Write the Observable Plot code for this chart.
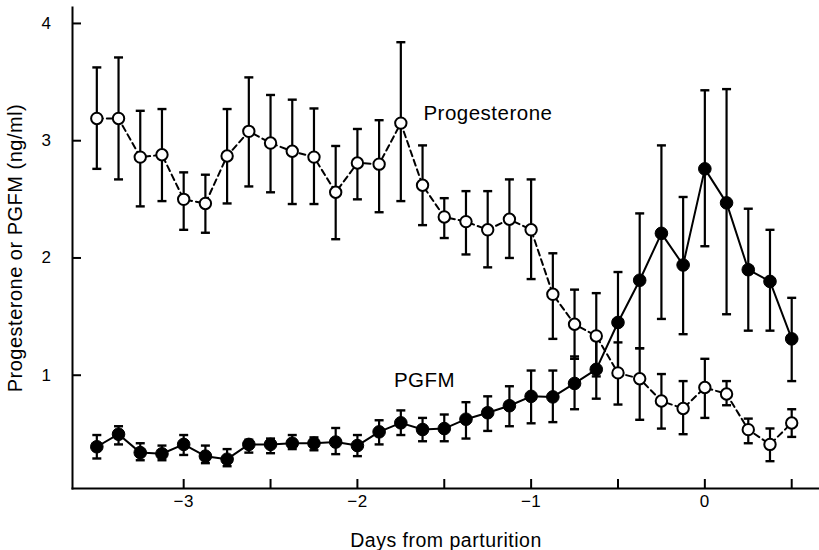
<!DOCTYPE html>
<html><head><meta charset="utf-8">
<script src="https://cdn.jsdelivr.net/npm/d3@7"></script>
<script src="https://cdn.jsdelivr.net/npm/@observablehq/plot@0.6"></script>
<style>
body{margin:0;background:#fff}
#chart svg{font-family:"Liberation Sans",Arial,sans-serif}
#chart svg text{letter-spacing:0.5px}
</style>
</head><body><div id="chart"></div>
<script>
const days = [-3.5,-3.375,-3.25,-3.125,-3,-2.875,-2.75,-2.625,-2.5,-2.375,-2.25,-2.125,-2,-1.875,-1.75,-1.625,-1.5,-1.375,-1.25,-1.125,-1,-0.875,-0.75,-0.625,-0.5,-0.375,-0.25,-0.125,0,0.125,0.25,0.375,0.5];

const progMean = [3.19,3.19,2.86,2.88,2.50,2.465,2.87,3.08,2.98,2.91,2.86,2.56,2.81,2.80,3.15,2.62,2.35,2.31,2.24,2.33,2.24,1.69,1.435,1.335,1.02,0.97,0.78,0.716,0.895,0.84,0.536,0.41,0.593];
const progLo   = [2.76,2.67,2.44,2.485,2.24,2.215,2.465,2.61,2.56,2.46,2.46,2.16,2.50,2.39,2.485,2.28,2.17,2.03,1.92,2.0,1.82,1.31,1.14,0.99,0.75,0.62,0.545,0.497,0.636,0.744,0.42,0.267,0.474];
const progHi   = [3.625,3.71,3.255,3.27,2.73,2.71,3.27,3.54,3.39,3.35,3.275,2.955,3.10,3.175,3.84,2.96,2.51,2.57,2.57,2.67,2.67,2.04,1.73,1.70,1.28,1.23,1.01,0.95,1.14,0.95,0.63,0.546,0.71];

const pgfmMean = [0.39,0.497,0.34,0.33,0.41,0.31,0.284,0.41,0.41,0.42,0.42,0.43,0.40,0.517,0.594,0.537,0.545,0.625,0.68,0.74,0.82,0.815,0.93,1.05,1.45,1.81,2.21,1.94,2.76,2.47,1.90,1.80,1.31];
const pgfmLo   = [0.29,0.41,0.275,0.275,0.32,0.25,0.224,0.34,0.335,0.37,0.36,0.327,0.31,0.41,0.49,0.437,0.437,0.46,0.525,0.565,0.59,0.60,0.71,0.80,1.03,1.23,1.48,1.35,2.10,1.52,1.38,1.38,0.95];
const pgfmHi   = [0.49,0.565,0.42,0.40,0.49,0.40,0.37,0.45,0.46,0.49,0.47,0.55,0.49,0.616,0.70,0.636,0.665,0.77,0.82,0.906,1.04,1.04,1.16,1.30,1.88,2.38,2.96,2.52,3.43,3.44,2.42,2.24,1.66];

const xTicks = [-3,-2.5,-2,-1.5,-1,-0.5,0,0.5];
const xTickLabels = ["\u22123","","\u22122","","\u22121","","0",""];
const yTicks = [1,2,3,4];
const yTickLabels = ["1","2","3","4"];

const seriesLabels = ["Progesterone","PGFM"];
const seriesLabelX = [-1.62,-1.79];
const seriesLabelY = [3.235,0.957];

const prog = days.map((d,i)=>({day:d, mean:progMean[i], lo:progLo[i], hi:progHi[i]}));
const pgfm = days.map((d,i)=>({day:d, mean:pgfmMean[i], lo:pgfmLo[i], hi:pgfmHi[i]}));
const annot = seriesLabels.map((t,i)=>({text:t, x:seriesLabelX[i], y:seriesLabelY[i]}));

const cap = {draw(ctx, size){ const w = Math.sqrt(size/Math.PI); ctx.moveTo(-w,0); ctx.lineTo(w,0); }};

const errBars = (data) => [
  Plot.ruleX(data, {x:"day", y1:"lo", y2:"hi", stroke:"black", strokeWidth:2.2}),
  Plot.dot(data, {x:"day", y:"hi", symbol:cap, r:4.5, stroke:"black", strokeWidth:2.4}),
  Plot.dot(data, {x:"day", y:"lo", symbol:cap, r:4.5, stroke:"black", strokeWidth:2.4})
];

const chart = Plot.plot({
  width: 819, height: 550,
  marginLeft: 72, marginRight: 0, marginTop: 7, marginBottom: 62,
  x: {domain: [-3.64, 0.66]},
  y: {domain: [0.034, 4.136]},
  style: {fontFamily: "'Liberation Sans', Arial, sans-serif", fontSize: "16px", color: "black", background: "white"},
  marks: [
    Plot.frame({anchor: "left", stroke: "black", strokeWidth: 2}),
    Plot.frame({anchor: "bottom", stroke: "black", strokeWidth: 2}),
    Plot.axisX({ticks: xTicks, tickSize: -9, tickPadding: 15, strokeWidth: 2,
      tickFormat: (d) => xTickLabels[xTicks.indexOf(d)], fontSize: 17, label: null}),
    Plot.axisX({ticks: [], label: "Days from parturition", labelAnchor: "center", labelArrow: "none", labelOffset: 58, fontSize: 19.5}),
    Plot.axisY({ticks: yTicks, tickSize: -9, tickPadding: 30, strokeWidth: 2,
      tickFormat: (d) => yTickLabels[yTicks.indexOf(d)], fontSize: 17, label: null}),
    Plot.axisY({ticks: [], label: "Progesterone or PGFM (ng/ml)", labelAnchor: "center", labelArrow: "none", labelOffset: 65, fontSize: 20}),
    ...errBars(prog),
    ...errBars(pgfm),
    Plot.line(prog, {x:"day", y:"mean", stroke:"black", strokeWidth:2, strokeDasharray:"6,4"}),
    Plot.line(pgfm, {x:"day", y:"mean", stroke:"black", strokeWidth:2}),
    Plot.dot(prog, {x:"day", y:"mean", r:5.7, fill:"white", stroke:"black", strokeWidth:2}),
    Plot.dot(pgfm, {x:"day", y:"mean", r:6.3, fill:"black", stroke:"black", strokeWidth:1}),
    Plot.text(annot, {x:"x", y:"y", text:"text", textAnchor:"start", fontSize:20.5, fill:"black"})
  ]
});
document.getElementById("chart").appendChild(chart);
</script>
</body></html>
